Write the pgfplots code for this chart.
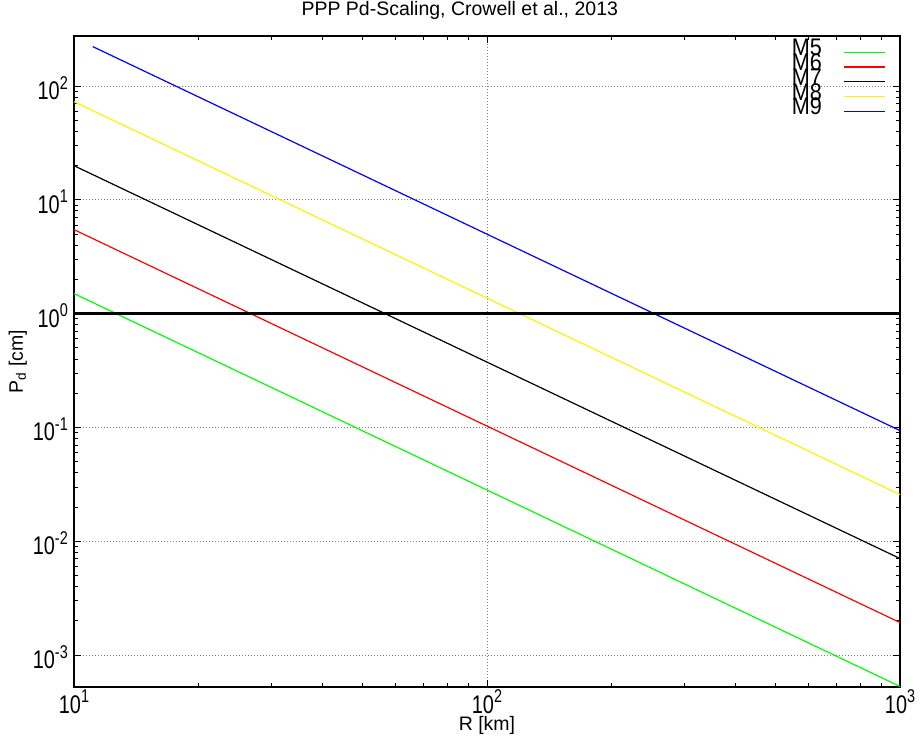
\documentclass[border=0pt]{standalone}
\usepackage{pgfplots}
\pgfplotsset{compat=1.18}
\usepackage{fontspec}
\setmainfont{Liberation Sans}
\newfontfamily\tickfam[FakeStretch=0.78]{Liberation Sans}
\newfontfamily\legfam[FakeStretch=0.9]{Liberation Sans}
\newcommand{\bigf}{\fontsize{19.5}{22}\selectfont}
\newcommand{\tf}{\tickfam\fontsize{25.5}{27}\selectfont}
\newcommand{\tl}[1]{10\raisebox{10.5pt}{\fontsize{18.5}{18.5}\selectfont #1}}
\begin{document}
\begin{tikzpicture}
\path[use as bounding box] (-74pt,-53pt) rectangle (846pt,687pt);
\begin{axis}[
  at={(0,0)}, anchor=south west,
  scale only axis, width=826pt, height=651pt,
  xmode=log, ymode=log,
  xmin=10, xmax=1000, ymin=5.24e-4, ymax=275,
  xtick={10,100,1000},
  xticklabels={\tl{1},\tl{2},\tl{3}},
  ytick={1e-3,1e-2,1e-1,1,10,100},
  yticklabels={\tl{-3},\tl{-2},\tl{-1},\tl{0},\tl{1},\tl{2}},
  xticklabel style={font=\tf, anchor=base, yshift=-26pt, inner sep=0pt},
  yticklabel style={font=\tf, anchor=east, xshift=-6pt, yshift=-2pt, inner sep=0pt},
  title style={font=\bigf, at={(axis description cs:0.467,1)}, anchor=center, yshift=20pt},
  title={PPP Pd-Scaling, Crowell et al., 2013},
  xlabel={R [km]},
  ylabel={P\textsubscript{d} [cm]},
  xlabel style={font=\bigf, at={(axis description cs:0.5,0)}, anchor=base, yshift=-43pt, inner sep=0pt},
  ylabel style={font=\bigf, at={(axis description cs:-0.068,0.5)}, anchor=center},
  major tick length=7pt, minor tick length=4pt,
  every tick/.style={black, line width=0.8pt},
  axis line style={line width=1.3pt},
  grid=major,
  major grid style={gray, line width=0.9pt, dash pattern=on 1pt off 2pt},
  legend style={draw=none, fill=none, at={(0.987,0.99)}, anchor=north east,
    font=\legfam\fontsize{24}{24}\selectfont, row sep=0pt,
    nodes={inner sep=0pt, text height=11pt, text depth=3.8pt}},
  legend plot pos=right,
  legend cell align=right,
  legend image code/.code={\path (0pt,0pt); \draw[#1] (22pt,0pt) -- (63pt,0pt);},
]
\addplot[green, line width=1.2pt] coordinates {(10,1.50) (100,0.0282) (1000,5.30e-4)};
\addlegendentry{M5}
\addplot[red, line width=1.2pt] coordinates {(10,5.47) (100,0.1028) (1000,1.93e-3)};
\addlegendentry{M6}
\addplot[black, line width=1.2pt] coordinates {(10,19.95) (100,0.375) (1000,7.05e-3)};
\addlegendentry{M7}
\addplot[yellow, line width=1.2pt] coordinates {(10,72.8) (100,1.368) (1000,0.0257)};
\addlegendentry{M8}
\addplot[blue, line width=1.2pt] coordinates {(11.1,222) (100,4.99) (1000,0.0938)};
\addlegendentry{M9}
\addplot[black, line width=2.3pt, forget plot] coordinates {(10,1) (1000,1)};
\end{axis}
\end{tikzpicture}
\end{document}
